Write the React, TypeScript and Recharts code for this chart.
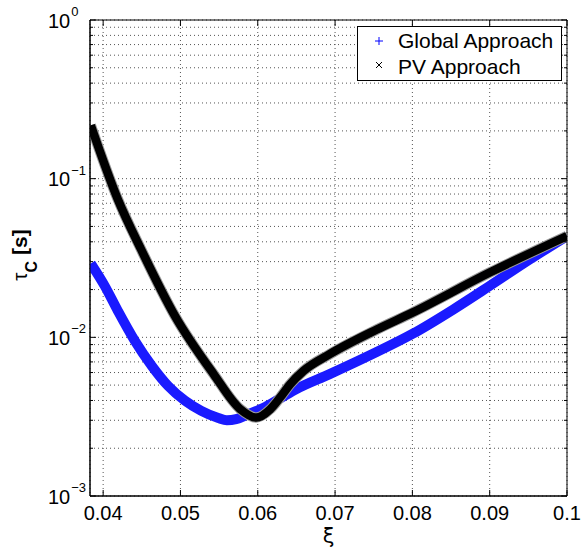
import { CartesianGrid, Line, LineChart, ReferenceArea, XAxis, YAxis } from "recharts";

// Global approach (blue "+")
const globalXi = [0.0384, 0.0402, 0.0419, 0.0441, 0.0463, 0.0484, 0.0506, 0.0527, 0.0549, 0.056, 0.0572, 0.0586, 0.0607, 0.0629, 0.065, 0.0693, 0.0745, 0.08, 0.0853, 0.09, 0.0952, 0.1];
const globalTau = [0.0292, 0.0211, 0.0147, 0.0095, 0.0066, 0.00494, 0.00398, 0.00344, 0.0031, 0.003, 0.00305, 0.00325, 0.00358, 0.00412, 0.00472, 0.00586, 0.0077, 0.0105, 0.015, 0.0211, 0.031, 0.0435];

// PV approach (black "x")
const pvXi = [0.0384, 0.0419, 0.0449, 0.0493, 0.0543, 0.0577, 0.0598, 0.0616, 0.0629, 0.0642, 0.0659, 0.0693, 0.0754, 0.08, 0.09, 0.1];
const pvTau = [0.217, 0.0741, 0.0359, 0.0136, 0.00586, 0.00354, 0.00312, 0.00352, 0.00418, 0.00507, 0.00614, 0.00783, 0.0112, 0.0143, 0.0256, 0.0435];

const xTicks = [0.04, 0.05, 0.06, 0.07, 0.08, 0.09, 0.1];
const xTickLabels = ["0.04", "0.05", "0.06", "0.07", "0.08", "0.09", "0.1"];
const decades = [0.001, 0.01, 0.1, 1];
const minorSteps = [2, 3, 4, 5, 6, 7, 8, 9];

const X_MIN = 0.0383;
const X_MAX = 0.1;

const W = 581;
const H = 548;
const PLOT = { left: 90, right: 567, top: 20, bottom: 496 };
const FONT = "'Liberation Sans', Arial, Helvetica, sans-serif";

const globalData = globalXi.map((xi, i) => ({ xi, tau: globalTau[i] }));
const pvData = pvXi.map((xi, i) => ({ xi, tau: pvTau[i] }));

const yTicks: number[] = [];
decades.forEach((d, i) => {
  yTicks.push(d);
  if (i < decades.length - 1) minorSteps.forEach((m) => yTicks.push(+(d * m).toPrecision(3)));
});

function YTick(props: any) {
  const { y, payload } = props;
  const v = payload.value as number;
  const exp = Math.round(Math.log10(v));
  const major = decades.includes(v);
  const len = major ? 6 : 3;
  return (
    <g>
      <line x1={PLOT.left} x2={PLOT.left + len} y1={y} y2={y} stroke="#000" />
      <line x1={PLOT.right - len} x2={PLOT.right} y1={y} y2={y} stroke="#000" />
      {major && (
        <text x={48} y={y + 7.5} fontSize={20} fontFamily={FONT} fill="#000">
          10
          <tspan dx={1} dy={-11.5} fontSize={13}>
            {exp < 0 ? `\u2212${-exp}` : `${exp}`}
          </tspan>
        </text>
      )}
    </g>
  );
}

function XTick(props: any) {
  const { x, payload } = props;
  const i = xTicks.indexOf(payload.value);
  return (
    <g>
      <line x1={x} x2={x} y1={PLOT.bottom} y2={PLOT.bottom - 6} stroke="#000" />
      <line x1={x} x2={x} y1={PLOT.top} y2={PLOT.top + 6} stroke="#000" />
      <text x={x} y={520} textAnchor="middle" fontSize={20} fontFamily={FONT} fill="#000">
        {xTickLabels[i]}
      </text>
    </g>
  );
}

function XLabel() {
  return (
    <text x={(PLOT.left + PLOT.right) / 2} y={543} textAnchor="middle" fontSize={21} fontFamily="'DejaVu Sans', sans-serif" fill="#000">
      ξ
    </text>
  );
}

function YLabel() {
  return (
    <text transform="translate(27,255) rotate(-90)" textAnchor="middle" fontSize={21} fontFamily={FONT} fill="#000">
      τ
      <tspan dy={10} fontSize={16} fontWeight="bold">C</tspan>
      <tspan dy={-10} fontWeight="bold"> [s]</tspan>
    </text>
  );
}

function LegendBox() {
  return (
    <div
      style={{
        position: "absolute",
        left: 357,
        top: 26,
        width: 205,
        height: 55,
        border: "1px solid #000",
        background: "#fff",
        boxSizing: "border-box",
      }}
    >
      <svg width={203} height={53} style={{ display: "block" }}>
        <g stroke="#0000ff" strokeWidth={1}>
          <line x1={17} x2={25} y1={14} y2={14} />
          <line x1={21} x2={21} y1={10} y2={18} />
        </g>
        <g stroke="#000" strokeWidth={1}>
          <line x1={18} x2={24} y1={35} y2={41} />
          <line x1={18} x2={24} y1={41} y2={35} />
        </g>
        <text x={40} y={20.5} fontSize={21} fontFamily={FONT} fill="#000">
          Global Approach
        </text>
        <text x={40} y={46.5} fontSize={21} fontFamily={FONT} fill="#000">
          PV Approach
        </text>
      </svg>
    </div>
  );
}

export default function App() {
  return (
    <div style={{ position: "absolute", left: 0, top: 0, width: W, height: H, background: "#fff" }}>
      <LineChart width={W} height={H} margin={{ top: PLOT.top, right: W - PLOT.right, bottom: 0, left: 0 }}>
        <CartesianGrid stroke="#555" strokeDasharray="1 3" />
        <XAxis
          type="number"
          dataKey="xi"
          domain={[X_MIN, X_MAX]}
          ticks={xTicks}
          interval={0}
          allowDataOverflow
          height={H - PLOT.bottom}
          tickLine={false}
          axisLine={{ stroke: "#000" }}
          tick={XTick}
          label={<XLabel />}
        />
        <YAxis
          type="number"
          dataKey="tau"
          scale="log"
          domain={[0.001, 1]}
          ticks={yTicks}
          interval={0}
          allowDataOverflow
          width={PLOT.left}
          tickLine={false}
          axisLine={{ stroke: "#000" }}
          tick={YTick}
          label={<YLabel />}
        />
        <Line
          data={globalData}
          dataKey="tau"
          type="monotone"
          stroke="#1a1aff"
          strokeWidth={10}
          dot={false}
          activeDot={false}
          isAnimationActive={false}
        />
        {/* grey fringe left by the dense x markers */}
        <Line
          data={pvData}
          dataKey="tau"
          type="monotone"
          stroke="#9a9a9a"
          strokeWidth={10.5}
          dot={false}
          activeDot={false}
          isAnimationActive={false}
        />
        <Line
          data={pvData}
          dataKey="tau"
          type="monotone"
          stroke="#000"
          strokeWidth={8.5}
          dot={false}
          activeDot={false}
          isAnimationActive={false}
        />
        <ReferenceArea x1={X_MIN} x2={X_MAX} y1={0.001} y2={1} fill="none" stroke="#000" strokeWidth={1} ifOverflow="visible" />
      </LineChart>
      <LegendBox />
    </div>
  );
}
